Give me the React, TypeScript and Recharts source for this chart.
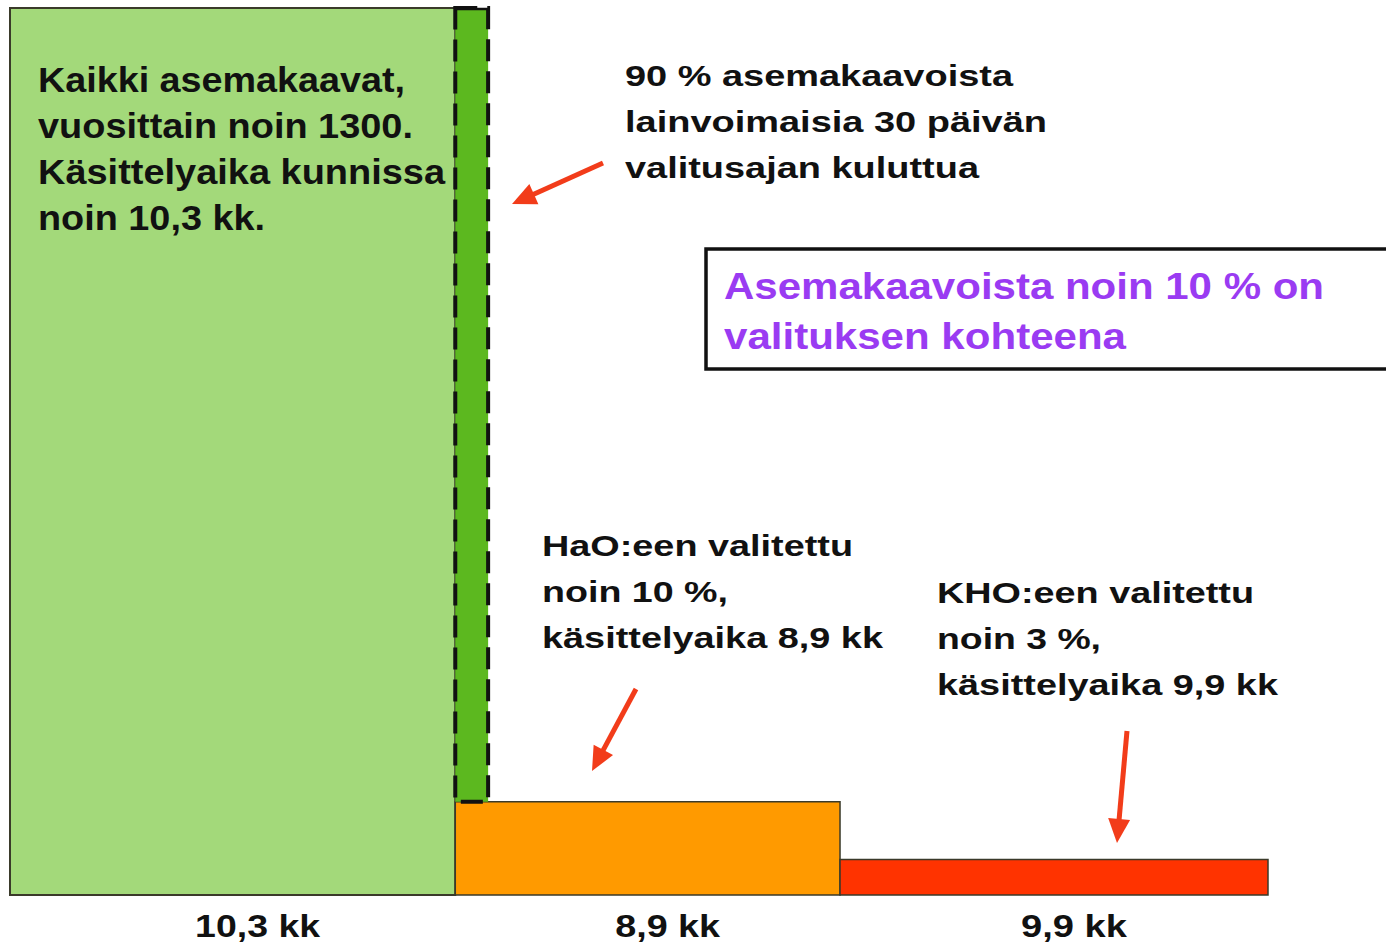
import React from 'react';
import { ComposedChart, XAxis, YAxis, ReferenceArea, Line } from 'recharts';

// stage: all plans -> appealed to HaO -> appealed further to KHO
const stages = ['Kaikki asemakaavat', 'HaO', 'KHO'];
const durationsKk = [10.3, 8.9, 9.9];
const sharesPct = [100, 10.5, 4];
const tickLabels = ['10,3 kk', '8,9 kk', '9,9 kk'];
const stageColors = ['#a3d97a', '#ff9a00', '#ff3300'];

// narrow strip for plans that become valid after the 30-day appeal period
const validStripKk = 0.76;

const starts = durationsKk.map((_, i) => durationsKk.slice(0, i).reduce((a, b) => a + b, 0));
const totalKk = durationsKk.reduce((a, b) => a + b, 0);
const mids = starts.map((s, i) => s + durationsKk[i] / 2);
const rows = stages.map((name, i) => ({ name, x: mids[i], share: sharesPct[i] }));

const FONT = "'Liberation Sans', Arial, Helvetica, sans-serif";
const ARROW = '#f23c1a';

const AxisTick = (props: any) => {
  const { x, y, index } = props;
  const widths = [125, 105, 106];
  const shift = [25, 20, 20];
  return (
    <text
      x={x + shift[index] - widths[index] / 2}
      y={y + 34}
      textLength={widths[index]}
      lengthAdjust="spacingAndGlyphs"
      fontFamily={FONT}
      fontWeight="bold"
      fontSize={31}
      fill="#111"
    >
      {tickLabels[index]}
    </text>
  );
};

const T = ({ x, y, w, size, fill = '#111', children }: any) => (
  <text
    x={x}
    y={y}
    textLength={w}
    lengthAdjust="spacingAndGlyphs"
    fontFamily={FONT}
    fontWeight="bold"
    fontSize={size}
    fill={fill}
  >
    {children}
  </text>
);

const Arrow = ({ x1, y1, x2, y2 }: any) => {
  const dx = x2 - x1;
  const dy = y2 - y1;
  const len = Math.sqrt(dx * dx + dy * dy);
  const ux = dx / len;
  const uy = dy / len;
  const head = 24;
  const half = 11;
  const bx = x2 - ux * head;
  const by = y2 - uy * head;
  const pts = [
    `${x2},${y2}`,
    `${bx - uy * half},${by + ux * half}`,
    `${bx + uy * half},${by - ux * half}`,
  ].join(' ');
  return (
    <g>
      <line x1={x1} y1={y1} x2={bx + ux * 2} y2={by + uy * 2} stroke={ARROW} strokeWidth={5} />
      <polygon points={pts} fill={ARROW} />
    </g>
  );
};

export default function App() {
  return (
    <div style={{ position: 'absolute', left: 0, top: 0, width: 1386, height: 947, background: '#fff', overflow: 'hidden' }}>
      <ComposedChart
        width={1386}
        height={947}
        data={rows}
        margin={{ top: 8, right: 118, bottom: 0, left: 10 }}
      >
        <XAxis
          type="number"
          dataKey="x"
          domain={[0, totalKk]}
          ticks={mids}
          interval={0}
          axisLine={false}
          tickLine={false}
          height={52}
          tick={<AxisTick />}
          allowDataOverflow
        />
        <YAxis type="number" domain={[0, 100]} hide allowDataOverflow />
        {/* invisible series so both axes get a domain */}
        <Line dataKey="share" stroke="none" dot={false} activeDot={false} legendType="none" isAnimationActive={false} />
        {stages.map((name, i) => (
          <ReferenceArea
            key={name}
            x1={starts[i]}
            x2={starts[i] + durationsKk[i]}
            y1={0}
            y2={sharesPct[i]}
            fill={stageColors[i]}
            fillOpacity={1}
            stroke="#3a3a2a"
            strokeWidth={i === 0 ? 2 : 1.5}
            ifOverflow="visible"
          />
        ))}
        <ReferenceArea
          x1={starts[1]}
          x2={starts[1] + validStripKk}
          y1={sharesPct[1]}
          y2={100}
          fill="#5cb81f"
          fillOpacity={1}
          stroke="#111"
          strokeWidth={4}
          strokeDasharray="22 10"
          ifOverflow="visible"
        />
      </ComposedChart>

      <svg width={1386} height={947} style={{ position: 'absolute', left: 0, top: 0, pointerEvents: 'none' }}>
        <line x1={455} y1={9} x2={490} y2={9} stroke="#111" strokeWidth={2.5} />

        <T x={38} y={92} w={367} size={35}>Kaikki asemakaavat,</T>
        <T x={38} y={138} w={375} size={35}>vuosittain noin 1300.</T>
        <T x={38} y={184} w={407} size={35}>Käsittelyaika kunnissa</T>
        <T x={38} y={230} w={227} size={35}>noin 10,3 kk.</T>

        <T x={625} y={86} w={388} size={30}>90 % asemakaavoista</T>
        <T x={625} y={132} w={422} size={30}>lainvoimaisia 30 päivän</T>
        <T x={625} y={178} w={354} size={30}>valitusajan kuluttua</T>

        <rect x={706} y={249} width={700} height={120} fill="#fff" stroke="#111" strokeWidth={3.5} />
        <T x={724} y={299} w={600} size={36} fill="#9a3bf2">Asemakaavoista noin 10 % on</T>
        <T x={724} y={349} w={402} size={36} fill="#9a3bf2">valituksen kohteena</T>

        <T x={542} y={556} w={311} size={30}>HaO:een valitettu</T>
        <T x={542} y={602} w={186} size={30}>noin 10 %,</T>
        <T x={542} y={648} w={341} size={30}>käsittelyaika 8,9 kk</T>

        <T x={937} y={603} w={317} size={30}>KHO:een valitettu</T>
        <T x={937} y={649} w={164} size={30}>noin 3 %,</T>
        <T x={937} y={695} w={341} size={30}>käsittelyaika 9,9 kk</T>

        <Arrow x1={603} y1={163} x2={512} y2={204} />
        <Arrow x1={636} y1={689} x2={592} y2={771} />
        <Arrow x1={1127} y1={731} x2={1117} y2={843} />
      </svg>
    </div>
  );
}
